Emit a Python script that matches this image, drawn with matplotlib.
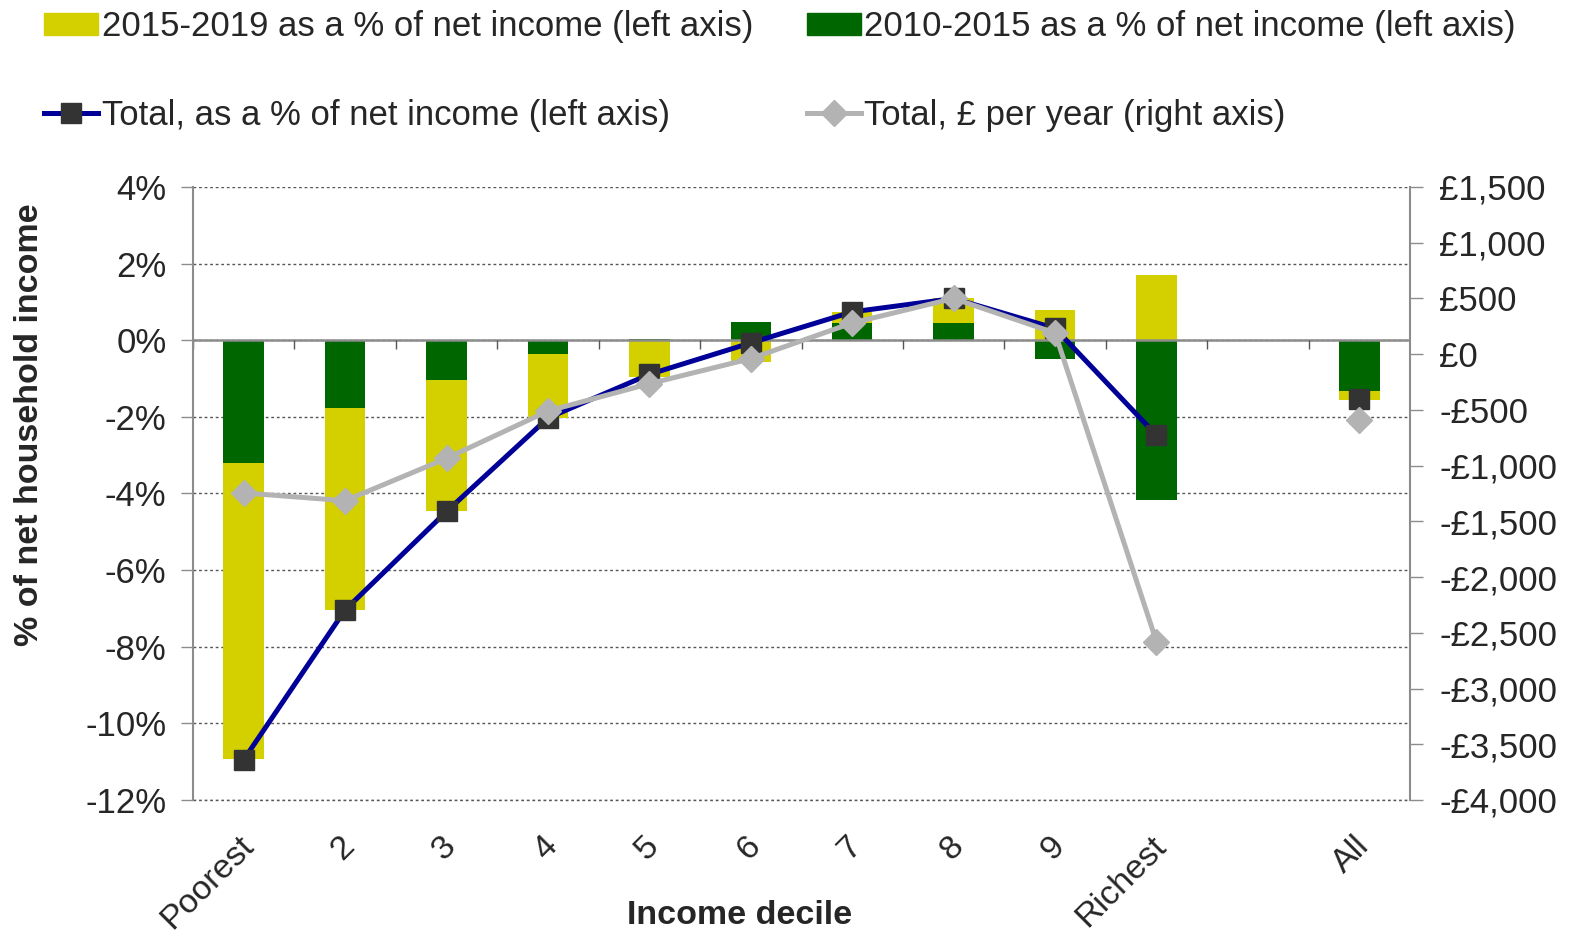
import numpy as np
import matplotlib
matplotlib.use("Agg")
import matplotlib.pyplot as plt
import matplotlib.transforms as mtransforms
from matplotlib.lines import Line2D
from matplotlib.patches import Patch

plt.rcParams['font.family'] = ['Liberation Sans', 'DejaVu Sans']

# data (blank slot between Richest and All)
categories = ['Poorest', '2', '3', '4', '5', '6', '7', '8', '9', 'Richest', '', 'All']
pct_2010_2015 = [-3.2, -1.76, -1.05, -0.36, 0.03, 0.47, 0.44, 0.45, -0.50, -4.17, np.nan, -1.32]
pct_2015_2019 = [-7.73, -5.28, -3.42, -1.67, -0.95, -0.57, 0.30, 0.64, 0.80, 1.70, np.nan, -0.24]
total_pct = [-10.95, -7.04, -4.47, -2.03, -0.89, -0.07, 0.74, 1.09, 0.31, -2.48, np.nan, -1.53]
total_gbp = [-1245, -1315, -935, -510, -265, -40, 280, 500, 190, -2580, np.nan, -590]

yellow = '#D4D000'
green = '#006600'
navy = '#000099'
grey = '#B3B3B3'
txt = '#262626'
axcol = '#8C8C8C'

x = np.arange(len(categories))
g = np.array(pct_2010_2015)
yl = np.array(pct_2015_2019)
# yellow stacks on green only when both go the same way
bottom_y = np.where(np.sign(g) == np.sign(yl), g, 0)

fig = plt.figure(figsize=(15.79, 9.34), dpi=100)
ax = fig.add_axes([0.1222, 0.1435, 0.7708, 0.6563])

ax.bar(x, g, width=0.4, color=green, zorder=2)
ax.bar(x, yl, width=0.4, bottom=bottom_y, color=yellow, zorder=2)
ax.plot(x, total_pct, color=navy, lw=3.6, marker='s', ms=15, mfc='#333333', mec='#333333', zorder=3)

ax.set_xlim(-0.5, len(categories) - 0.5)
ax.set_ylim(-12, 4)
ax.set_yticks(np.arange(-12, 5, 2))
ax.set_yticklabels([f'{v}%' for v in range(-12, 5, 2)])
ax.yaxis.grid(True, linestyle=(0, (2, 2)), color='#555555', lw=1)
ax.set_axisbelow(True)
ax.axhline(-12, linestyle=(0, (2, 2)), color='#555555', lw=1, clip_on=False)

ax.axhline(0, color=axcol, lw=1.8, zorder=2.5)
ax.vlines(np.arange(-0.5, len(categories)), -0.22, 0, color='#555555', lw=1, zorder=2.5)

ax.set_xticks(x)
ax.set_xticklabels(categories, rotation=45, ha='right', rotation_mode='anchor')
ax.tick_params(axis='x', length=0, pad=22, labelsize=24.5, colors=txt)
shift = mtransforms.ScaledTranslation(-6 / 100, 0, fig.dpi_scale_trans)
for lab in ax.get_xticklabels():
    lab.set_transform(lab.get_transform() + shift)
ax.tick_params(axis='y', direction='out', length=9, width=1, color=axcol, labelsize=25, labelcolor=txt, pad=10)

for s in ['top', 'bottom', 'right']:
    ax.spines[s].set_visible(False)
ax.spines['left'].set_color(axcol)
ax.spines['left'].set_linewidth(1.5)

fig.text(30 / 1579, 1 - 425 / 934, '% of net household income', rotation=90, ha='center', va='center',
         fontsize=24.5, fontweight='bold', color=txt)
fig.text(740 / 1579, 1 - 915 / 934, 'Income decile', ha='center', va='center',
         fontsize=24.5, fontweight='bold', color=txt)

ax2 = ax.twinx()
ax2.plot(x, total_gbp, color=grey, lw=3.6, marker='D', ms=13, mfc=grey, mec=grey, zorder=4)
ax2.set_ylim(-4000, 1500)
gbp_ticks = np.arange(-4000, 1501, 500)
ax2.set_yticks(gbp_ticks)
ax2.set_yticklabels([f'-£{abs(v):,}' if v < 0 else f'£{v:,}' for v in gbp_ticks])
ax2.tick_params(axis='y', direction='out', length=9, width=1, color=axcol, labelsize=25, labelcolor=txt, pad=12)
for s in ['top', 'bottom', 'left']:
    ax2.spines[s].set_visible(False)
ax2.spines['right'].set_color(axcol)
ax2.spines['right'].set_linewidth(1.5)

handles = [
    Patch(color=yellow),
    Line2D([], [], color=navy, lw=3.6, marker='s', ms=15, mfc='#333333', mec='#333333'),
    Patch(color=green),
    Line2D([], [], color=grey, lw=3.6, marker='D', ms=13, mfc=grey, mec=grey),
]
labels = [
    '2015-2019 as a % of net income (left axis)',
    'Total, as a % of net income (left axis)',
    '2010-2015 as a % of net income (left axis)',
    'Total, £ per year (right axis)',
]
fig.legend(handles, labels, ncol=2, loc='upper left', bbox_to_anchor=(0.028, 0.989),
           frameon=False, fontsize=25, handlelength=1.55, handleheight=0.6, handletextpad=0.1,
           columnspacing=1.55, labelspacing=1.6, borderpad=0, borderaxespad=0, labelcolor=txt)

fig.savefig('out.png', dpi=100)
